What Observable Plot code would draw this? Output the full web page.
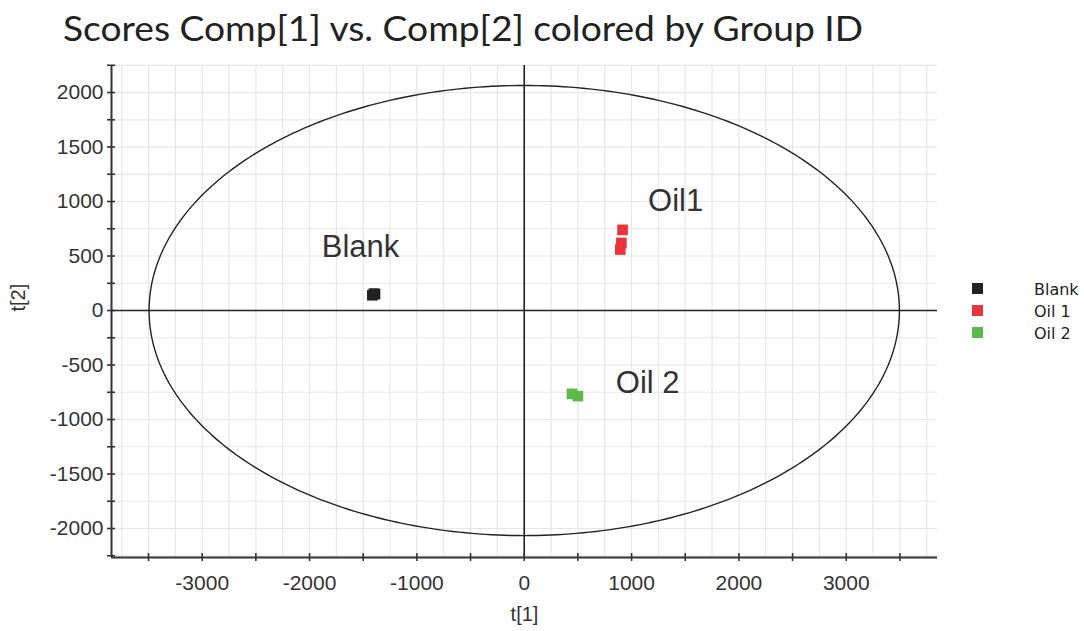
<!DOCTYPE html>
<html><head><meta charset="utf-8">
<script src="https://cdn.jsdelivr.net/npm/d3@7"></script>
<script src="https://cdn.jsdelivr.net/npm/@observablehq/plot@0.6"></script>
<style>
body{margin:0;background:#fff;}
#wrap{position:relative;width:1084px;height:631px;overflow:hidden;background:#fff;}
#title{position:absolute;left:63px;top:6px;font-family:Lato,"Open Sans",sans-serif;font-size:35px;line-height:1.2;color:#222;white-space:nowrap;transform-origin:0 0;}
.sw{position:absolute;width:11px;height:11px;}
.lt{position:absolute;font-family:"DejaVu Sans",sans-serif;font-size:16px;line-height:16px;color:#222;white-space:nowrap;}
</style></head><body>
<div id="wrap"><div id="chart"></div><div id="title">Scores Comp[1] vs. Comp[2] colored by Group ID</div><div id="legend"></div></div>
<script>
// ---- data ----
const groups = ["Blank", "Oil 1", "Oil 2"];
const groupColors = ["#222222", "#e8343a", "#5bb84a"];
const pointGroup = ["Blank", "Blank", "Blank", "Oil 1", "Oil 1", "Oil 1", "Oil 2", "Oil 2"];
const pointX = [-1415, -1400, -1390, 916, 905, 895, 445, 500];
const pointY = [140, 155, 150, 740, 620, 560, -765, -785];
const labelText = ["Blank", "Oil1", "Oil 2"];
const labelX = [-1525, 1410, 1150];
const labelY = [578, 1000, -670];
const xTickLabels = [-3000, -2000, -1000, 0, 1000, 2000, 3000];
const yTickLabels = [2000, 1500, 1000, 500, 0, -500, -1000, -1500, -2000];
const ellipseRadiusX = 3495;
const ellipseRadiusY = 2065;
const xDomain = [-3845, 3850];
const yDomain = [-2266, 2248];

const points = pointX.map((x, i) => ({x, y: pointY[i], group: pointGroup[i]}));
const labels = labelText.map((t, i) => ({t, x: labelX[i], y: labelY[i]}));
const ellipse = d3.range(0, 361, 1).map(a => ({
  x: ellipseRadiusX * Math.cos(a * Math.PI / 180),
  y: ellipseRadiusY * Math.sin(a * Math.PI / 180)
}));
const xGrid = d3.range(-3750, 3751, 250);
const yGrid = d3.range(-2250, 2251, 250);
const xTicks = d3.range(-3500, 3501, 500);
const yTicks = d3.range(-2250, 2251, 250);

const W = 1084, H = 631, mt = 65, mb = 74, ml = 111, mr = 147;
const fw = W - ml - mr, fh = H - mt - mb;

const chart = Plot.plot({
  width: W, height: H,
  marginTop: mt, marginBottom: mb, marginLeft: ml, marginRight: mr,
  style: {fontFamily: "'Liberation Sans', Arial, sans-serif", fontSize: "21px", color: "#333", background: "transparent", overflow: "visible"},
  x: {domain: xDomain},
  y: {domain: yDomain},
  color: {domain: groups, range: groupColors},
  marks: [
    Plot.ruleX(xGrid, {x: d => d, stroke: "#e6e6e6", strokeWidth: 1.2}),
    Plot.ruleY(yGrid, {y: d => d, stroke: "#e6e6e6", strokeWidth: 1.2}),
    Plot.ruleX([0], {x: d => d, stroke: "#222", strokeWidth: 1.6}),
    Plot.ruleY([0], {y: d => d, stroke: "#222", strokeWidth: 1.6}),
    Plot.line(ellipse, {x: "x", y: "y", stroke: "#222", strokeWidth: 1.4}),
    Plot.dot(points, {x: "x", y: "y", fill: "group", symbol: "square", r: 6}),
    Plot.text(labels, {x: "x", y: "y", text: "t", fontSize: 31, fill: "#333", fontFamily: "'Liberation Sans', Arial, sans-serif"}),
    Plot.ruleX([xDomain[0]], {x: d => d, stroke: "#333", strokeWidth: 2}),
    Plot.ruleY([yDomain[0]], {y: d => d, stroke: "#333", strokeWidth: 2}),
    Plot.tickX(xTicks, {x: d => d, stroke: "#333", strokeWidth: 1.6, insetTop: fh - 4, insetBottom: -4}),
    Plot.tickY(yTicks, {y: d => d, stroke: "#333", strokeWidth: 1.6, insetLeft: -4, insetRight: fw - 4}),
    Plot.axisX({ticks: xTickLabels, tickSize: 0, tickPadding: 18, label: null, tickFormat: d => String(d), fill: "#333"}),
    Plot.axisY({ticks: yTickLabels, tickSize: 0, tickPadding: 8, label: null, tickFormat: d => String(d), fill: "#333"}),
    Plot.text(["t[1]"], {frameAnchor: "bottom", dy: 63, text: d => d, fontSize: 20, fill: "#333"}),
    Plot.text(["t[2]"], {frameAnchor: "left", dx: -93, rotate: -90, text: d => d, fontSize: 20, fill: "#333"})
  ]
});
document.getElementById("chart").appendChild(chart);

// legend
const legend = document.getElementById("legend");
const legTops = [283, 305, 327];
groups.forEach((g, i) => {
  const s = document.createElement("div");
  s.className = "sw";
  s.style.left = "972px"; s.style.top = legTops[i] + "px"; s.style.background = groupColors[i];
  legend.appendChild(s);
  const t = document.createElement("div");
  t.className = "lt";
  t.style.left = "1034px"; t.style.top = (legTops[i] - 1) + "px";
  t.textContent = g;
  legend.appendChild(t);
});

function fitTitle() {
  const el = document.getElementById("title");
  el.style.transform = "none";
  const w = el.getBoundingClientRect().width;
  el.style.transform = "scaleX(" + (800 / w) + ")";
}
fitTitle();
if (document.fonts && document.fonts.ready) document.fonts.ready.then(fitTitle);
</script>
</body></html>
